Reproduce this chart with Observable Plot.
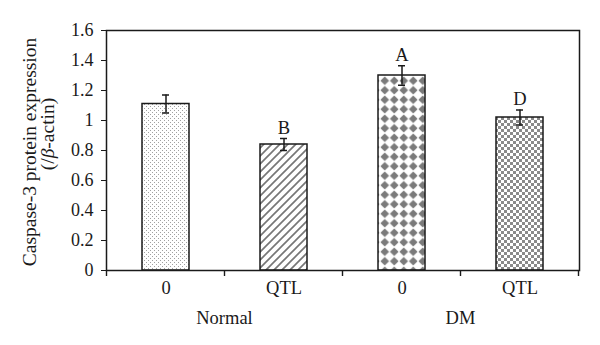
<!DOCTYPE html>
<html><head><meta charset="utf-8">
<script src="https://cdn.jsdelivr.net/npm/d3@7"></script>
<script src="https://cdn.jsdelivr.net/npm/@observablehq/plot@0.6"></script>
<style>
body{margin:0;background:#fff}
#chart svg{font-family:"Liberation Serif","Times New Roman",serif}
</style>
</head><body><div id="chart"></div>
<script>
const groups = ["Normal", "Normal", "DM", "DM"];
const treatments = ["0", "QTL", "0", "QTL"];
const values = [1.11, 0.84, 1.30, 1.02];
const errors = [0.06, 0.04, 0.065, 0.05];
const letters = ["", "B", "A", "D"];
const patterns = ["dots", "hatch", "diamonds", "checks"];
const yTicks = [0, 0.2, 0.4, 0.6, 0.8, 1, 1.2, 1.4, 1.6];
const groupNames = ["Normal", "DM"];

const keys = groups.map((g, i) => g + "|" + treatments[i]);
const data = values.map((v, i) => ({
  key: keys[i], group: groups[i], treat: treatments[i],
  value: v, err: errors[i], letter: letters[i], fill: `url(#${patterns[i]})`
}));

const ink = "#1a1a1a";

function groupAxis(index, scales, vals, dims) {
  const x = scales.x, bw = x.bandwidth();
  const centers = keys.map(k => x(k) + bw / 2);
  const half = (centers[1] - centers[0]) / 2;
  const edges = [centers[0] - half, ...centers.map(c => c + half)];
  const y0 = dims.height - dims.marginBottom;
  const g = d3.create("svg:g");
  g.selectAll("line").data(edges).join("line")
    .attr("x1", d => d).attr("x2", d => d)
    .attr("y1", y0).attr("y2", y0 + 6)
    .attr("stroke", ink).attr("stroke-width", 1.4);
  g.selectAll("text").data(groupNames).join("text")
    .attr("x", name => d3.mean(keys.map((k, i) => groups[i] === name ? centers[i] : null).filter(c => c != null)))
    .attr("y", y0 + 54)
    .attr("text-anchor", "middle")
    .attr("fill", ink)
    .attr("font-size", 18.5)
    .text(d => d);
  return g.node();
}

const plot = Plot.plot({
  width: 600, height: 345,
  marginLeft: 106, marginRight: 21, marginTop: 30, marginBottom: 75,
  style: {fontSize: "18px", color: ink, background: "#fff", fontFamily: '"Liberation Serif","Times New Roman",serif'},
  x: {type: "band", domain: keys, paddingInner: 0.6, paddingOuter: 0.3, axis: null},
  y: {domain: [0, 1.6], axis: null},
  color: {type: "identity"},
  marks: [
    Plot.barY(data, {x: "key", y: "value", fill: "fill", stroke: ink, strokeWidth: 1.5}),
    Plot.ruleX(data, {x: "key", y1: d => d.value - d.err, y2: d => d.value + d.err, stroke: ink, strokeWidth: 1.5}),
    Plot.tickY(data, {x: "key", y: d => d.value + d.err, stroke: ink, strokeWidth: 1.5, insetLeft: 20, insetRight: 20}),
    Plot.tickY(data, {x: "key", y: d => d.value - d.err, stroke: ink, strokeWidth: 1.5, insetLeft: 20, insetRight: 20}),
    Plot.text(data.filter(d => d.letter), {x: "key", y: d => d.value + d.err, text: "letter", lineAnchor: "bottom", dy: -5, fontSize: 18.5, fill: ink}),
    Plot.axisY({ticks: yTicks, tickFormat: d3.format("~g"), tickSize: 5, tickPadding: 8, label: null, fontSize: 18}),
    Plot.axisX({tickSize: 0, tickPadding: 10, tickFormat: k => k.split("|")[1], label: null, fontSize: 18.5}),
    Plot.frame({stroke: ink, strokeWidth: 1.5}),
    groupAxis
  ]
});

// pattern definitions
const defs = d3.select(plot).insert("defs", ":first-child");
const pDots = defs.append("pattern").attr("id", "dots").attr("patternUnits", "userSpaceOnUse").attr("width", 4).attr("height", 4);
pDots.append("rect").attr("width", 4).attr("height", 4).attr("fill", "#fff");
pDots.append("rect").attr("x", 0).attr("y", 0).attr("width", 1).attr("height", 1).attr("fill", "#a0a0a0");
pDots.append("rect").attr("x", 2).attr("y", 2).attr("width", 1).attr("height", 1).attr("fill", "#a0a0a0");

const pHatch = defs.append("pattern").attr("id", "hatch").attr("patternUnits", "userSpaceOnUse").attr("width", 8).attr("height", 8);
pHatch.append("rect").attr("width", 8).attr("height", 8).attr("fill", "#fff");
pHatch.append("path").attr("d", "M-2,2 L2,-2 M0,8 L8,0 M6,10 L10,6").attr("stroke", "#777").attr("stroke-width", 1.7);

const pDia = defs.append("pattern").attr("id", "diamonds").attr("patternUnits", "userSpaceOnUse").attr("width", 9.5).attr("height", 9.5);
pDia.append("rect").attr("width", 9.5).attr("height", 9.5).attr("fill", "#fff");
pDia.append("path").attr("d", "M4.75,0.4 L9.1,4.75 L4.75,9.1 L0.4,4.75 Z").attr("fill", "#7a7a7a");

const pChk = defs.append("pattern").attr("id", "checks").attr("patternUnits", "userSpaceOnUse").attr("width", 6).attr("height", 6);
pChk.append("rect").attr("width", 6).attr("height", 6).attr("fill", "#fff");
pChk.append("rect").attr("x", 0).attr("y", 0).attr("width", 3).attr("height", 3).attr("fill", "#8a8a8a");
pChk.append("rect").attr("x", 3).attr("y", 3).attr("width", 3).attr("height", 3).attr("fill", "#8a8a8a");

// y-axis title (two lines, italic beta)
const yl = d3.select(plot).append("text")
  .attr("transform", "rotate(-90)")
  .attr("text-anchor", "middle")
  .attr("fill", ink)
  .attr("font-size", 19.5);
yl.append("tspan").attr("x", -152).attr("y", 36).text("Caspase-3 protein expression");
const l2 = yl.append("tspan").attr("x", -134).attr("y", 54);
l2.append("tspan").text("(/");
l2.append("tspan").attr("font-style", "italic").text("β");
l2.append("tspan").text("-actin)");

document.getElementById("chart").append(plot);
</script>
</body></html>
